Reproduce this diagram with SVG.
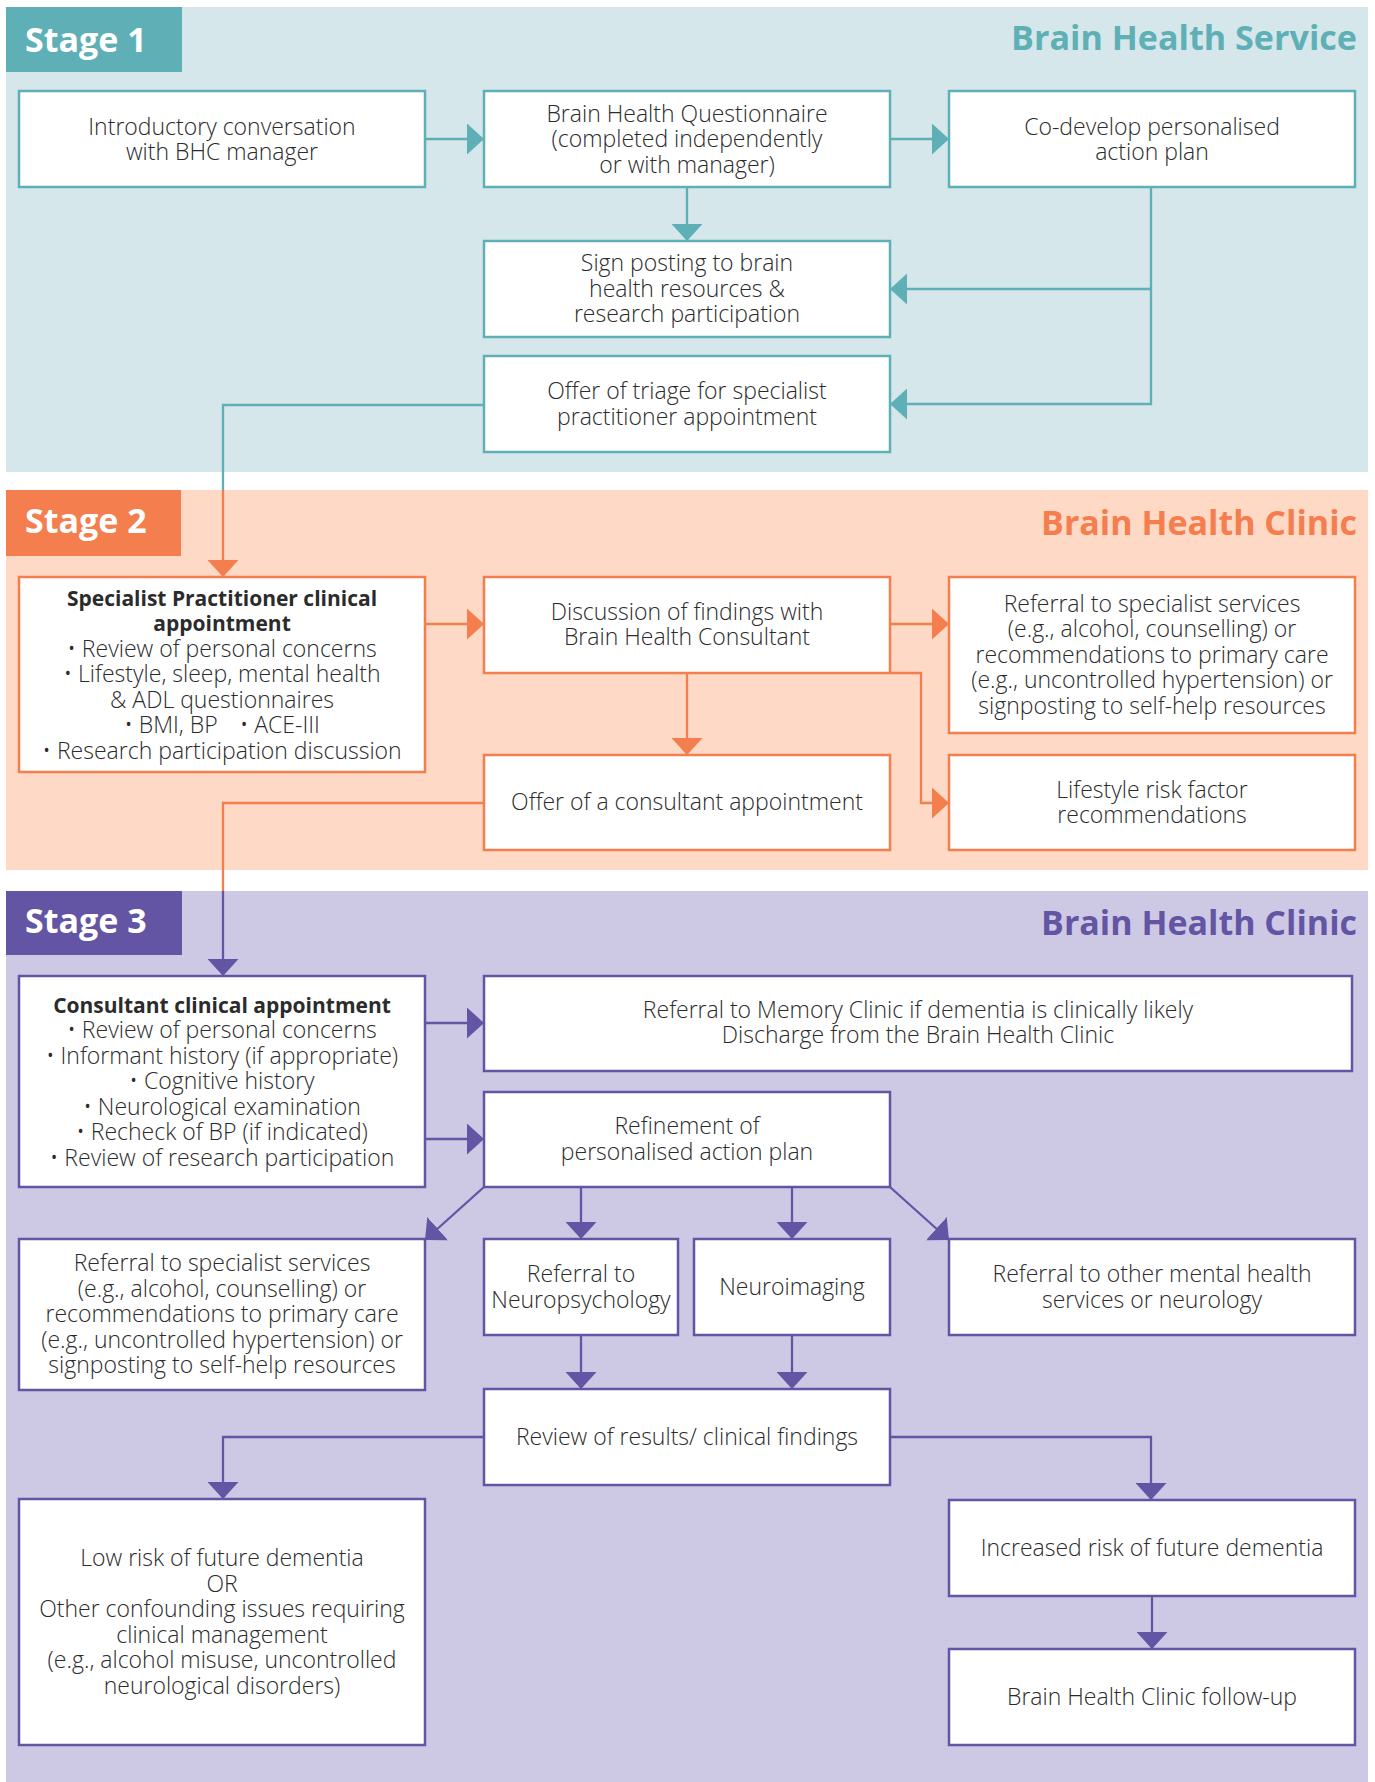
<svg xmlns="http://www.w3.org/2000/svg" width="1375" height="1782" viewBox="0 0 1375 1782">
<defs>
<style>
.t{font-family:"Open Sans","Liberation Sans",sans-serif;font-size:23px;font-weight:300;fill:#2b2b2b;text-anchor:middle}
.b{font-weight:700;font-size:21px}
.stage{font-family:"Open Sans","Liberation Sans",sans-serif;font-size:34px;font-weight:700;fill:#fff}
.title{font-family:"Open Sans","Liberation Sans",sans-serif;font-size:34px;font-weight:700;text-anchor:end}
.n1{fill:#fff;stroke:#5fb0b6;stroke-width:2.5}
.n2{fill:#fff;stroke:#f47e4d;stroke-width:2.5}
.n3{fill:#fff;stroke:#6355a3;stroke-width:2.5}
.c1{fill:none;stroke:#5fb0b6;stroke-width:2.3}
.c2{fill:none;stroke:#f47e4d;stroke-width:2.3}
.c3{fill:none;stroke:#6355a3;stroke-width:2.3}
</style>
<marker id="a1" markerUnits="userSpaceOnUse" markerWidth="17" markerHeight="31" refX="17" refY="15.5" orient="auto"><path d="M0,0 L17,15.5 L0,31 Z" fill="#5fb0b6"/></marker>
<marker id="a2" markerUnits="userSpaceOnUse" markerWidth="17" markerHeight="31" refX="17" refY="15.5" orient="auto"><path d="M0,0 L17,15.5 L0,31 Z" fill="#f47e4d"/></marker>
<marker id="a3" markerUnits="userSpaceOnUse" markerWidth="17" markerHeight="31" refX="17" refY="15.5" orient="auto"><path d="M0,0 L17,15.5 L0,31 Z" fill="#6355a3"/></marker>
</defs>
<rect width="1375" height="1782" fill="#fff"/>
<g id="bands">
<rect x="6" y="7" width="1362" height="465" fill="#d5e7ea"/>
<rect x="6" y="490" width="1362" height="380" fill="#fdd9c6"/>
<rect x="6" y="891" width="1362" height="891" fill="#cdc9e5"/>
<rect x="6" y="7" width="176" height="65" fill="#5fb0b6"/>
<rect x="6" y="490" width="175" height="66" fill="#f47e4d"/>
<rect x="6" y="891" width="176" height="64" fill="#6355a3"/>
<text class="stage" x="25" y="52">Stage 1</text>
<text class="stage" x="25" y="533">Stage 2</text>
<text class="stage" x="25" y="933">Stage 3</text>
<text class="title" x="1357" y="50" fill="#5fb0b6" textLength="346" lengthAdjust="spacingAndGlyphs">Brain Health Service</text>
<text class="title" x="1357" y="535" fill="#f47e4d">Brain Health Clinic</text>
<text class="title" x="1357" y="935" fill="#6355a3">Brain Health Clinic</text>
</g>
<g id="connectors">
<path class="c1" d="M425,139 H484" marker-end="url(#a1)"/>
<path class="c1" d="M890,139 H949" marker-end="url(#a1)"/>
<path class="c1" d="M687,187 V241" marker-end="url(#a1)"/>
<path class="c1" d="M1151,187 V404 H890" marker-end="url(#a1)"/>
<path class="c1" d="M1151,289 H890" marker-end="url(#a1)"/>
<path class="c1" d="M484,405 H223 V490"/>
<path class="c2" d="M223,490 V577" marker-end="url(#a2)"/>
<path class="c2" d="M425,624 H484" marker-end="url(#a2)"/>
<path class="c2" d="M890,624 H949" marker-end="url(#a2)"/>
<path class="c2" d="M687,673 V755" marker-end="url(#a2)"/>
<path class="c2" d="M890,673 H921 V803 H949" marker-end="url(#a2)"/>
<path class="c2" d="M484,803 H223 V891"/>
<path class="c3" d="M223,891 V976" marker-end="url(#a3)"/>
<path class="c3" d="M425,1023 H484" marker-end="url(#a3)"/>
<path class="c3" d="M425,1139 H484" marker-end="url(#a3)"/>
<path class="c3" d="M484,1187 L425,1240" marker-end="url(#a3)"/>
<path class="c3" d="M581,1187 V1239" marker-end="url(#a3)"/>
<path class="c3" d="M792,1187 V1239" marker-end="url(#a3)"/>
<path class="c3" d="M890,1187 L949,1240" marker-end="url(#a3)"/>
<path class="c3" d="M581,1335 V1389" marker-end="url(#a3)"/>
<path class="c3" d="M792,1335 V1389" marker-end="url(#a3)"/>
<path class="c3" d="M484,1437 H223 V1499" marker-end="url(#a3)"/>
<path class="c3" d="M890,1437 H1151 V1500" marker-end="url(#a3)"/>
<path class="c3" d="M1152,1596 V1649" marker-end="url(#a3)"/>
</g>
<g id="n-intro"><rect class="n1" x="19" y="91" width="406" height="96"/>
<text class="t" x="222" y="134.5">Introductory conversation</text><text class="t" x="222" y="160">with BHC manager</text></g>
<g id="n-bhq"><rect class="n1" x="484" y="91" width="406" height="96"/>
<text class="t" x="687" y="121.5">Brain Health Questionnaire</text><text class="t" x="687" y="147">(completed independently</text><text class="t" x="687" y="172.5">or with manager)</text></g>
<g id="n-codev"><rect class="n1" x="949" y="91" width="406" height="96"/>
<text class="t" x="1152" y="134.5">Co-develop personalised</text><text class="t" x="1152" y="160">action plan</text></g>
<g id="n-sign"><rect class="n1" x="484" y="241" width="406" height="96"/>
<text class="t" x="687" y="271">Sign posting to brain</text><text class="t" x="687" y="296.5">health resources &amp;</text><text class="t" x="687" y="322">research participation</text></g>
<g id="n-triage"><rect class="n1" x="484" y="356" width="406" height="96"/>
<text class="t" x="687" y="399">Offer of triage for specialist</text><text class="t" x="687" y="424.5">practitioner appointment</text></g>
<g id="n-sp"><rect class="n2" x="19" y="577" width="406" height="195"/>
<text class="t b" x="222" y="605.5">Specialist Practitioner clinical</text>
<text class="t b" x="222" y="631">appointment</text>
<text class="t" x="222" y="656.5">• Review of personal concerns</text>
<text class="t" x="222" y="682">• Lifestyle, sleep, mental health</text>
<text class="t" x="222" y="707.5">&amp; ADL questionnaires</text>
<text class="t" x="222" y="733"><tspan>• BMI, BP</tspan><tspan dx="22">• ACE-III</tspan></text>
<text class="t" x="222" y="758.5">• Research participation discussion</text></g>
<g id="n-disc"><rect class="n2" x="484" y="577" width="406" height="96"/>
<text class="t" x="687" y="619.5">Discussion of findings with</text><text class="t" x="687" y="645">Brain Health Consultant</text></g>
<g id="n-ref2"><rect class="n2" x="949" y="577" width="406" height="156"/>
<text class="t" x="1152" y="611.5">Referral to specialist services</text>
<text class="t" x="1152" y="637">(e.g., alcohol, counselling) or</text>
<text class="t" x="1152" y="662.5">recommendations to primary care</text>
<text class="t" x="1152" y="688">(e.g., uncontrolled hypertension) or</text>
<text class="t" x="1152" y="713.5">signposting to self-help resources</text></g>
<g id="n-offer"><rect class="n2" x="484" y="755" width="406" height="95"/>
<text class="t" x="687" y="810">Offer of a consultant appointment</text></g>
<g id="n-life"><rect class="n2" x="949" y="755" width="406" height="95"/>
<text class="t" x="1152" y="797.5">Lifestyle risk factor</text><text class="t" x="1152" y="823">recommendations</text></g>
<g id="n-cons"><rect class="n3" x="19" y="976" width="406" height="211"/>
<text class="t b" x="222" y="1012.5">Consultant clinical appointment</text>
<text class="t" x="222" y="1038">• Review of personal concerns</text>
<text class="t" x="222" y="1063.5">• Informant history (if appropriate)</text>
<text class="t" x="222" y="1089">• Cognitive history</text>
<text class="t" x="222" y="1114.5">• Neurological examination</text>
<text class="t" x="222" y="1140">• Recheck of BP (if indicated)</text>
<text class="t" x="222" y="1165.5">• Review of research participation</text></g>
<g id="n-mem"><rect class="n3" x="484" y="976" width="868" height="95"/>
<text class="t" x="918" y="1017.5">Referral to Memory Clinic if dementia is clinically likely</text>
<text class="t" x="918" y="1043">Discharge from the Brain Health Clinic</text></g>
<g id="n-refine"><rect class="n3" x="484" y="1092" width="406" height="95"/>
<text class="t" x="687" y="1134">Refinement of</text><text class="t" x="687" y="1159.5">personalised action plan</text></g>
<g id="n-ref3"><rect class="n3" x="19" y="1239" width="406" height="151"/>
<text class="t" x="222" y="1271">Referral to specialist services</text>
<text class="t" x="222" y="1296.5">(e.g., alcohol, counselling) or</text>
<text class="t" x="222" y="1322">recommendations to primary care</text>
<text class="t" x="222" y="1347.5">(e.g., uncontrolled hypertension) or</text>
<text class="t" x="222" y="1373">signposting to self-help resources</text></g>
<g id="n-npsy"><rect class="n3" x="484" y="1239" width="194" height="96"/>
<text class="t" x="581" y="1282">Referral to</text><text class="t" x="581" y="1307.5">Neuropsychology</text></g>
<g id="n-nimg"><rect class="n3" x="694" y="1239" width="196" height="96"/>
<text class="t" x="792" y="1295">Neuroimaging</text></g>
<g id="n-other"><rect class="n3" x="949" y="1239" width="406" height="96"/>
<text class="t" x="1152" y="1282">Referral to other mental health</text><text class="t" x="1152" y="1307.5">services or neurology</text></g>
<g id="n-review"><rect class="n3" x="484" y="1389" width="406" height="96"/>
<text class="t" x="687" y="1445">Review of results/ clinical findings</text></g>
<g id="n-low"><rect class="n3" x="19" y="1499" width="406" height="246"/>
<text class="t" x="222" y="1566">Low risk of future dementia</text>
<text class="t" x="222" y="1591.5">OR</text>
<text class="t" x="222" y="1617">Other confounding issues requiring</text>
<text class="t" x="222" y="1642.5">clinical management</text>
<text class="t" x="222" y="1668">(e.g., alcohol misuse, uncontrolled</text>
<text class="t" x="222" y="1693.5">neurological disorders)</text></g>
<g id="n-inc"><rect class="n3" x="949" y="1500" width="406" height="96"/>
<text class="t" x="1152" y="1556">Increased risk of future dementia</text></g>
<g id="n-fu"><rect class="n3" x="949" y="1649" width="406" height="96"/>
<text class="t" x="1152" y="1705">Brain Health Clinic follow-up</text></g>
</svg>
